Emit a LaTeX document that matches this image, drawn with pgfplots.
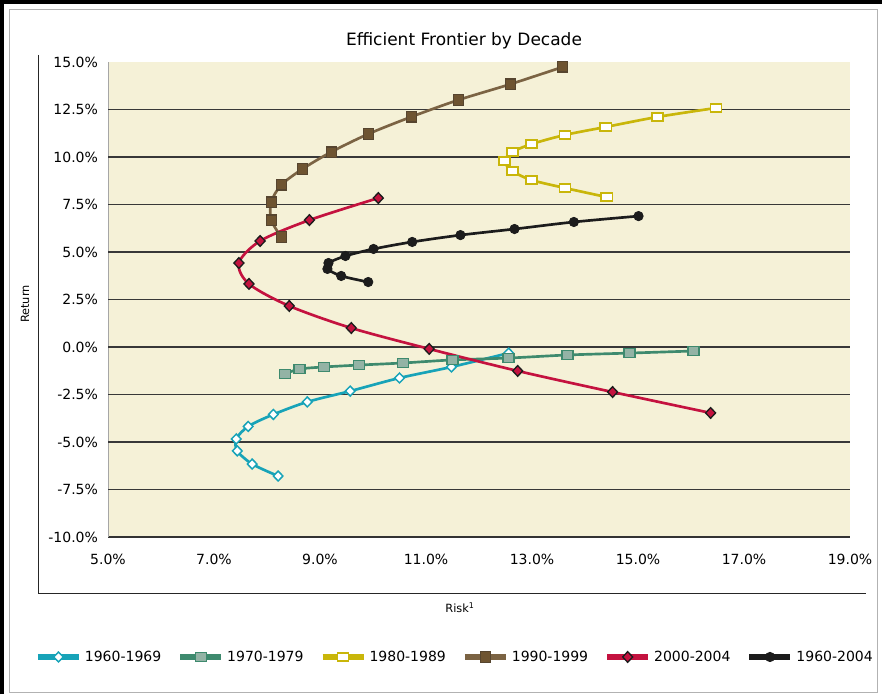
\documentclass[border=0pt]{standalone}
\usepackage{fontspec}
\setmainfont{DejaVu Sans}
\usepackage{pgfplots}
\pgfplotsset{compat=1.18}
\definecolor{bgbeige}{HTML}{F5F1D7}
\definecolor{c60}{HTML}{17A3B8}
\definecolor{c70}{HTML}{3E8A6E}
\definecolor{c70fill}{HTML}{93B3A5}
\definecolor{c80}{HTML}{C9B60A}
\definecolor{c90}{HTML}{7B6343}
\definecolor{c90fill}{HTML}{6E5431}
\definecolor{c00}{HTML}{C4123F}
\definecolor{call}{HTML}{1C1C1C}
\begin{document}
\begin{tikzpicture}
\useasboundingbox (0,0) rectangle (661.5pt,520.5pt);
\fill[white] (0,0) rectangle (661.5pt,520.5pt);
\draw[gray!60, line width=0.7pt] (6.75pt,1.5pt) rectangle (657.75pt,513.75pt);
\draw[black, line width=3pt] (1.5pt,0pt) -- (1.5pt,519pt) -- (661.5pt,519pt);
\draw[black!85, line width=0.7pt] (28.5pt,479.25pt) -- (28.5pt,75.75pt) -- (649.5pt,75.75pt);
\node[font=\fontsize{12.75}{15}\selectfont] at (348pt,490pt) {Efficient Frontier by Decade};
\node[font=\fontsize{8.5}{10}\selectfont, rotate=90] at (18.75pt,292.5pt) {Return};
\node[font=\fontsize{8.5}{10}\selectfont] at (345pt,64.5pt) {Risk\textsuperscript{1}};
\begin{axis}[
  at={(81pt,117.75pt)}, anchor=south west,
  scale only axis, width=556.5pt, height=356.25pt,
  xmin=5, xmax=19, ymin=-10, ymax=15,
  axis x line=bottom, axis y line=left,
  x axis line style={-, black!80, line width=1.2pt},
  y axis line style={-, gray!70, line width=0.5pt},
  axis background/.style={fill=bgbeige},
  major tick length=0pt,
  xtick={5,7,...,19},
  ytick={-10,-7.5,...,15},
  /pgf/number format/assume math mode=true,
  xticklabel={\pgfmathprintnumber[fixed,fixed zerofill,precision=1]{\tick}\%},
  yticklabel={\pgfmathprintnumber[fixed,fixed zerofill,precision=1]{\tick}\%},
  tick label style={font=\fontsize{10.5}{12}\selectfont},
  xticklabel style={yshift=-9pt},
  yticklabel style={xshift=-4pt},
  extra y ticks={-7.5,-5,-2.5,0,2.5,5,7.5,10,12.5},
  extra y tick labels={},
  extra y tick style={grid=major, major grid style={black!78, line width=1.2pt}},
  clip=false,
  legend columns=6,
  legend style={draw=none, fill=none, at={(0.4677,-0.2526)}, anchor=center,
    font=\fontsize{10.5}{12}\selectfont,
    /tikz/every even column/.append style={column sep=9.75pt}},
  legend image code/.code={
    \draw[#1, line width=5pt] (0pt,0pt) -- (30.75pt,0pt);
    \draw[#1] plot coordinates {(15.4pt,0pt)};
  },
]
\addplot[c60, line width=2pt, smooth, tension=0.5, mark=diamond*, mark size=3.7pt,
  mark options={fill=white, draw=c60, line width=1.1pt, xscale=1.3}] coordinates {
(12.56,-0.32) (11.48,-1.05) (10.50,-1.63) (9.57,-2.32) (8.76,-2.89) (8.12,-3.55)
(7.645,-4.18) (7.42,-4.84) (7.44,-5.47) (7.72,-6.16) (8.21,-6.79)};
\addlegendentry{1960-1969}
\addplot[c70, line width=2pt, smooth, tension=0.5, mark=square*, mark size=3.3pt,
  mark options={fill=c70fill, draw=c70, line width=1.1pt, xscale=1.25}] coordinates {
(8.34,-1.42) (8.61,-1.16) (9.08,-1.05) (9.74,-0.95) (10.57,-0.84) (11.50,-0.68)
(12.56,-0.58) (13.67,-0.42) (14.84,-0.32) (16.05,-0.21)};
\addlegendentry{1970-1979}
\addplot[c80, line width=2pt, smooth, tension=0.5, mark=square*, mark size=3.1pt,
  mark options={fill=white, draw=c80, line width=1.1pt, xscale=1.35}] coordinates {
(16.47,12.58) (15.37,12.11) (14.39,11.58) (13.62,11.16) (12.99,10.68) (12.63,10.26)
(12.48,9.79) (12.63,9.26) (12.99,8.79) (13.62,8.37) (14.41,7.89)};
\addlegendentry{1980-1989}
\addplot[c90, line width=2pt, smooth, tension=0.5, mark=square*, mark size=3.8pt,
  mark options={fill=c90fill, draw=c90!70!black, line width=0.8pt}] coordinates {
(13.58,14.74) (12.60,13.84) (11.61,13.0) (10.72,12.11) (9.91,11.21) (9.21,10.26)
(8.67,9.37) (8.27,8.53) (8.08,7.63) (8.08,6.68) (8.27,5.79)};
\addlegendentry{1990-1999}
\addplot[c00, line width=2pt, smooth, tension=0.5, mark=diamond*, mark size=4pt,
  mark options={fill=c00, draw=call, line width=1pt, xscale=1.25}] coordinates {
(10.10,7.84) (8.80,6.68) (7.87,5.58) (7.47,4.42) (7.66,3.32) (8.42,2.16)
(9.59,1.0) (11.06,-0.1) (12.73,-1.26) (14.52,-2.37) (16.37,-3.47)};
\addlegendentry{2000-2004}
\addplot[call, line width=2pt, smooth, tension=0.5, mark=*, mark size=3.5pt,
  mark options={fill=call, draw=call, line width=0.6pt}] coordinates {
(15.01,6.89) (13.79,6.58) (12.67,6.21) (11.65,5.89) (10.74,5.53) (10.01,5.16)
(9.48,4.79) (9.16,4.42) (9.14,4.11) (9.40,3.74) (9.91,3.42)};
\addlegendentry{1960-2004}
\end{axis}
\end{tikzpicture}
\end{document}
